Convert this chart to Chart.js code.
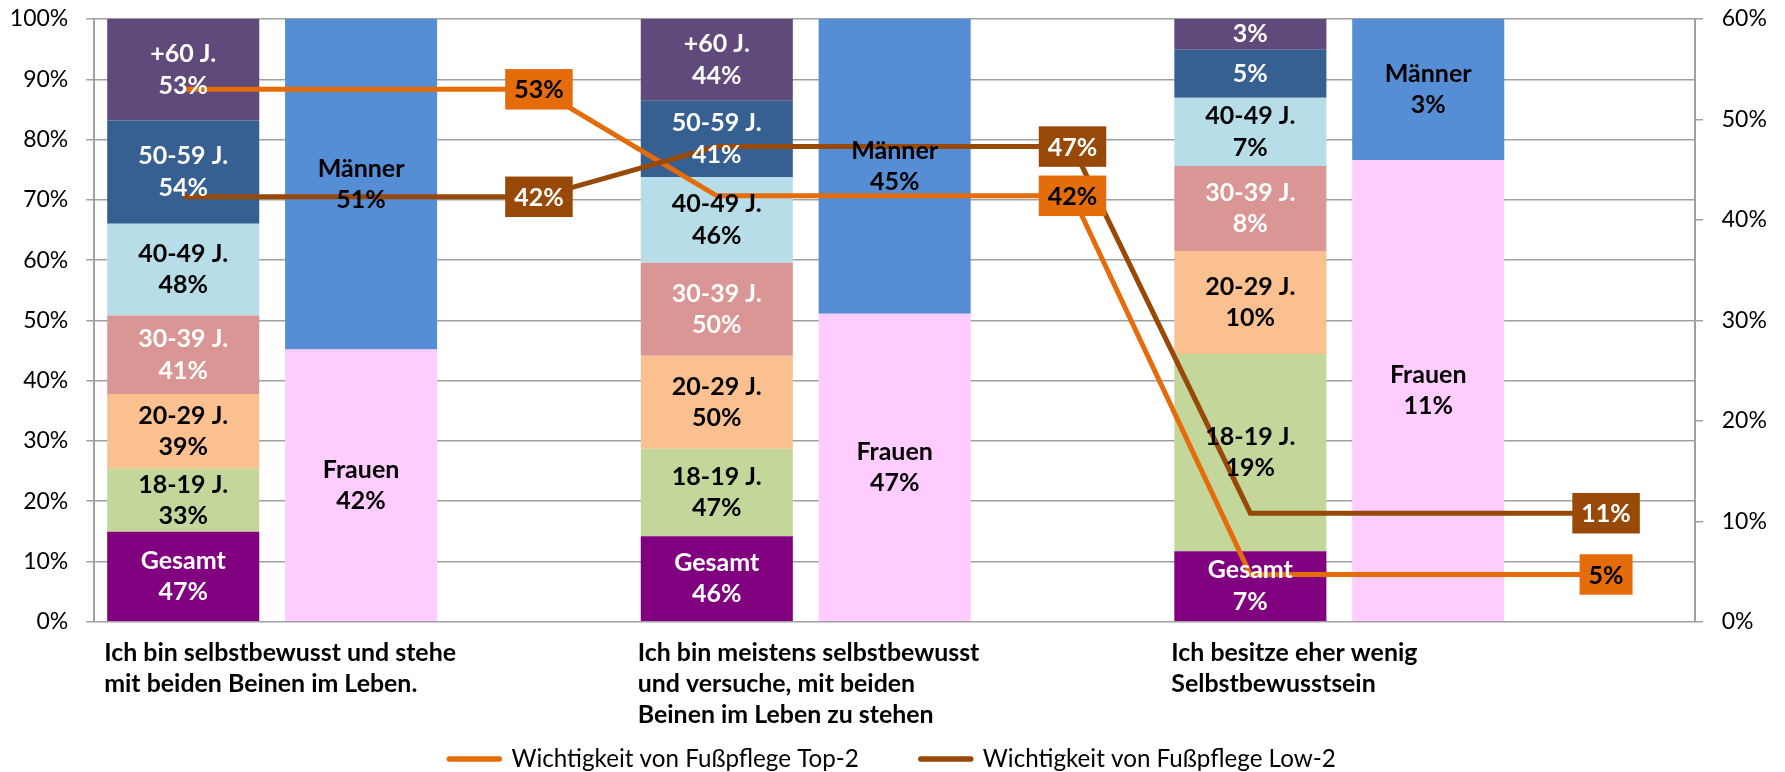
<!DOCTYPE html>
<html>
<head>
<meta charset="utf-8">
<script src="https://cdn.jsdelivr.net/npm/chart.js@4/dist/chart.umd.min.js"></script>
<style>
html,body{margin:0;padding:0;background:#fff;}
#wrap{width:1785px;height:772px;position:relative;}
</style>
</head>
<body>
<div id="wrap"><canvas id="c" width="1785" height="772"></canvas></div>
<script>
// ---------------- DATA ----------------
const groupLabels = [
  ['Ich bin selbstbewusst und stehe', 'mit beiden Beinen im Leben.'],
  ['Ich bin meistens selbstbewusst', 'und versuche, mit beiden', 'Beinen im Leben zu stehen'],
  ['Ich besitze eher wenig', 'Selbstbewusstsein']
];
const ageNames = ['Gesamt', '18-19 J.', '20-29 J.', '30-39 J.', '40-49 J.', '50-59 J.', '+60 J.'];
const gesamt    = [47, 46, 6.9];
const age18_19  = [33, 47, 19.3];
const age20_29  = [39, 50, 10.1];
const age30_39  = [41, 50, 8.3];
const age40_49  = [48, 46, 6.7];
const age50_59  = [54, 41, 4.7];
const age60plus = [53, 44, 3.0];
const genderNames = ['Frauen', 'Männer'];
const frauen  = [42, 47, 10.8];
const maenner = [51, 45, 3.3];
const lineNames = ['Wichtigkeit von Fußpflege Top-2', 'Wichtigkeit von Fußpflege Low-2'];
// one value per slot (age bar, gender bar, label slot) of each group
const top2 = [53, 53, 53, 42.4, 42.4, 42.4, 4.7, 4.7, 4.7];
const low2 = [42.3, 42.3, 42.3, 47.3, 47.3, 47.3, 10.8, 10.8, 10.8];

// ---------------- STYLE ----------------
const FONT = 'Lato';
const ageColors = ['#800080', '#C4D79B', '#FAC090', '#DA9694', '#B7DEE8', '#366092', '#604A7B'];
const ageText   = ['#ffffff', '#000000', '#000000', '#ffffff', '#000000', '#ffffff', '#ffffff'];
const genderColors = ['#FFCCFF', '#558ED5'];
const genderText   = ['#000000', '#000000'];
const lineColors = ['#E46C0A', '#984807'];
const lineBoxText = ['#000000', '#ffffff'];
const GRID = '#a0a0a0';

function fitSize(weight, text, target) {
  const c = document.createElement('canvas').getContext('2d');
  c.font = weight + ' 100px ' + FONT;
  return Math.round(100 * target / c.measureText(text).width * 10) / 10;
}
const boldSize   = fitSize('bold', 'Gesamt', 85);
const tickSize   = fitSize('normal', '100%', 58.5);
const legendSize = fitSize('normal', lineNames[0], 348);
const catSize    = fitSize('bold', groupLabels[0][0], 352);

const CANVAS_H = 772;
const PLOT_LEFT = 94.3, PLOT_RIGHT = 1695, PLOT_BOTTOM = 621.7, PLOT_TOP = 19;
const LEGEND_PAD = 62, LEGEND_CY = 759;
const LEGEND_TOP = LEGEND_CY - LEGEND_PAD - legendSize / 2;

// ---------------- BUILD DATASETS ----------------
const SLOTS = 3;
const nSlots = groupLabels.length * SLOTS;
const slotLabels = [];
groupLabels.forEach((g) => { slotLabels.push(g.join(' ')); slotLabels.push(g.join(' ') + ' '); slotLabels.push(g.join(' ') + '  '); });

const ageSeries = [gesamt, age18_19, age20_29, age30_39, age40_49, age50_59, age60plus];
const genderSeries = [frauen, maenner];
const datasets = [];
function addStack(seriesList, names, colors, texts, slotOffset) {
  const totals = groupLabels.map((_, g) => seriesList.reduce((s, arr) => s + arr[g], 0));
  seriesList.forEach((arr, k) => {
    const data = new Array(nSlots).fill(null);
    const raw = new Array(nSlots).fill(null);
    arr.forEach((v, g) => { data[g * SLOTS + slotOffset] = v / totals[g] * 100; raw[g * SLOTS + slotOffset] = v; });
    datasets.push({
      type: 'bar', label: names[k], data, rawValues: raw,
      backgroundColor: colors[k], textColor: texts[k],
      borderWidth: 0, yAxisID: 'y', order: 2,
      barPercentage: 0.855, categoryPercentage: 1.0
    });
  });
}
addStack(ageSeries, ageNames, ageColors, ageText, 0);
addStack(genderSeries, genderNames, genderColors, genderText, 1);
[top2, low2].forEach((arr, k) => {
  datasets.push({
    type: 'line', label: lineNames[k], data: arr,
    borderColor: lineColors[k], backgroundColor: lineColors[k], boxTextColor: lineBoxText[k],
    borderWidth: 5, pointRadius: 0, pointHoverRadius: 0, tension: 0,
    yAxisID: 'y1', order: 1 - k * 0.5
  });
});

// ---------------- PLUGINS ----------------
const legendFit = {
  id: 'legendFit',
  beforeLayout(chart) {
    const lg = chart.legend;
    if (lg && !lg._patched) {
      const orig = lg.fit;
      lg.fit = function () { orig.call(this); this.height = CANVAS_H - LEGEND_TOP; };
      lg._patched = true;
    }
  }
};

const labelsPlugin = {
  id: 'labelsPlugin',
  afterDatasetsDraw(chart) {
    const ctx = chart.ctx;
    ctx.save();
    ctx.textAlign = 'center';
    ctx.textBaseline = 'middle';
    ctx.font = 'bold ' + boldSize + 'px ' + FONT;
    // bar segment labels
    chart.data.datasets.forEach((ds, di) => {
      if (ds.type !== 'bar') return;
      const meta = chart.getDatasetMeta(di);
      meta.data.forEach((el, i) => {
        const raw = ds.rawValues[i];
        if (raw == null) return;
        const h = Math.abs(el.base - el.y);
        const cy = (el.base + el.y) / 2;
        const val = Math.round(raw) + '%';
        ctx.fillStyle = ds.textColor;
        if (h >= 60) {
          ctx.fillText(ds.label, el.x, cy - 15.75);
          ctx.fillText(val, el.x, cy + 15.75);
        } else {
          ctx.fillText(val, el.x, cy);
        }
      });
    });
    // line value boxes on the last slot of each group
    chart.data.datasets.forEach((ds, di) => {
      if (ds.type !== 'line') return;
      const meta = chart.getDatasetMeta(di);
      meta.data.forEach((el, i) => {
        if (i % SLOTS !== SLOTS - 1) return;
        const txt = Math.round(ds.data[i]) + '%';
        const tw = ctx.measureText(txt).width;
        const bw = tw + 18, bh = 40.5;
        ctx.fillStyle = ds.borderColor;
        ctx.fillRect(el.x - bw / 2, el.y - bh / 2, bw, bh);
        ctx.fillStyle = ds.boxTextColor;
        ctx.fillText(txt, el.x, el.y + 1);
      });
    });
    // category labels under each group
    ctx.textAlign = 'left';
    ctx.fillStyle = '#000';
    ctx.font = 'bold ' + catSize + 'px ' + FONT;
    const meta0 = chart.getDatasetMeta(0);
    groupLabels.forEach((lines, g) => {
      const el = meta0.data[g * SLOTS];
      const x = el.x - el.width / 2 - 3;
      lines.forEach((t, li) => ctx.fillText(t, x, chart.chartArea.bottom + 31.5 + li * 31));
    });
    ctx.restore();
  }
};

function noPad(s) { s.paddingTop = 0; s.paddingBottom = 0; }

// ---------------- CHART ----------------
new Chart(document.getElementById('c'), {
  data: { labels: slotLabels, datasets },
  options: {
    responsive: false,
    animation: false,
    devicePixelRatio: 1,
    events: [],
    layout: { padding: { top: PLOT_TOP, left: 0, right: 0, bottom: 0 } },
    scales: {
      x: {
        stacked: true,
        offset: true,
        ticks: { display: false },
        grid: { display: false },
        border: { display: false },
        afterFit(s) { s.height = LEGEND_TOP - PLOT_BOTTOM; s.paddingLeft = 0; s.paddingRight = 0; }
      },
      y: {
        position: 'left', stacked: true, min: 0, max: 100,
        ticks: { stepSize: 10, padding: 18, color: '#000', font: { family: FONT, size: tickSize }, callback: v => v + '%' },
        grid: { color: GRID, lineWidth: 1.5, tickLength: 8, drawTicks: true },
        border: { display: true, color: GRID, width: 2 },
        afterFit(s) { s.width = PLOT_LEFT; noPad(s); }
      },
      y1: {
        position: 'right', min: 0, max: 60,
        ticks: { stepSize: 10, padding: 18.7, color: '#000', font: { family: FONT, size: tickSize }, callback: v => v + '%' },
        grid: { drawOnChartArea: false, color: GRID, lineWidth: 1.5, tickLength: 8, drawTicks: true },
        border: { display: true, color: GRID, width: 2 },
        afterFit(s) { s.width = 1785 - PLOT_RIGHT; noPad(s); }
      }
    },
    plugins: {
      tooltip: { enabled: false },
      legend: {
        display: true,
        position: 'bottom',
        align: 'center',
        labels: {
          usePointStyle: true,
          pointStyleWidth: 50,
          padding: LEGEND_PAD,
          color: '#000',
          font: { family: FONT, size: legendSize },
          generateLabels(chart) {
            return chart.data.datasets.map((ds, i) => ds.type === 'line' ? {
              text: ds.label, fillStyle: ds.borderColor, strokeStyle: ds.borderColor,
              lineWidth: 5.5, lineCap: 'round', pointStyle: 'line', hidden: false,
              datasetIndex: i, fontColor: '#000'
            } : null).filter(Boolean);
          }
        }
      }
    }
  },
  plugins: [legendFit, labelsPlugin]
});
</script>
</body>
</html>
